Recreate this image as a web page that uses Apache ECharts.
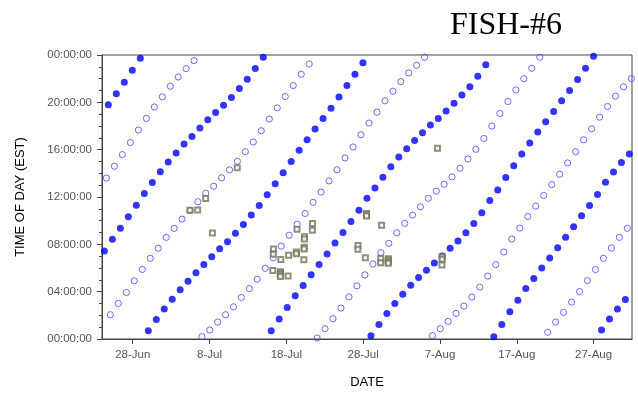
<!DOCTYPE html>
<html>
<head>
<meta charset="utf-8">
<title>FISH-#6</title>
<script src="https://cdn.jsdelivr.net/npm/echarts@6/dist/echarts.min.js"></script>
<style>
  html, body { margin: 0; padding: 0; background: #fff; }
  #chart { width: 638px; height: 394px; }
</style>
</head>
<body>
<div id="chart"></div>
<script>
// Tide times: each run gives the hour of day of the same tide on consecutive days from its start date.
const highTideRuns = [
  ['Jun 24', [19.79, 20.72, 21.70, 22.71, 23.72]],
  ['Jun 24', [7.44, 8.42, 9.35, 10.33, 11.31, 12.29, 13.23, 14.14, 14.96, 15.72, 16.48, 17.12, 17.83, 18.52, 19.14, 19.76, 20.41, 21.16, 21.95, 22.85, 23.81]],
  ['Jun 30', [0.70, 1.65, 2.53, 3.35, 4.17, 4.88, 5.60, 6.29, 6.96, 7.62, 8.22, 8.93, 9.68, 10.47, 11.28, 12.20, 13.12, 14.05, 14.99, 15.95, 16.84, 17.74, 18.64, 19.51, 20.46, 21.42, 22.37, 23.35]],
  ['Jul 16', [0.70, 1.68, 2.67, 3.65, 4.52, 5.42, 6.29, 7.19, 8.11, 9.01, 9.94, 10.89, 11.89, 12.77, 13.67, 14.55, 15.39, 16.08, 16.78, 17.43, 18.08, 18.64, 19.26, 19.93, 20.61, 21.31, 22.21, 23.18]],
  ['Jul 29', [0.28, 1.23, 2.16, 3.00, 3.79, 4.55, 5.19, 5.81, 6.43, 7.02, 7.66, 8.28, 8.98, 9.77, 10.67, 11.70, 12.60, 13.64, 14.65, 15.64, 16.56, 17.49, 18.36, 19.23, 20.13, 21.00, 21.92, 22.88, 23.89]],
  ['Aug 14', [0.20, 1.23, 2.30, 3.28, 4.27, 5.11, 6.01, 6.85, 7.72, 8.59, 9.49, 10.42, 11.28, 12.22, 13.25, 14.12, 14.91, 15.64]],
  ['Aug 28', [0.76, 1.68, 2.53, 3.34]]
];

const lowTideRuns = [
  ['Jun 24', [13.60, 14.60, 15.58, 16.60, 17.66, 18.64, 19.61, 20.47, 21.36, 22.14, 22.85, 23.52]],
  ['Jun 25', [2.05, 3.00, 3.93, 4.92, 5.88, 6.82, 7.67, 8.59, 9.35, 10.13, 10.87, 11.60, 12.32, 12.91, 13.62, 14.29, 15.02, 15.83, 16.65, 17.60, 18.59, 19.53, 20.49, 21.42, 22.37, 23.24]],
  ['Jul 7', [0.20, 0.76, 1.43, 2.05, 2.72, 3.52, 4.26, 5.05, 5.97, 6.87, 7.85, 8.77, 9.70, 10.61, 11.55, 12.42, 13.36, 14.30, 15.30, 16.23, 17.26, 18.25, 19.17, 20.13, 20.94, 21.75, 22.48, 23.13, 23.81]],
  ['Jul 22', [0.08, 0.87, 1.71, 2.61, 3.56, 4.49, 5.42, 6.34, 7.30, 8.08, 8.98, 9.77, 10.47, 11.17, 11.89, 12.49, 13.08, 13.70, 14.43, 15.21, 16.03, 16.95, 18.00, 19.06, 20.07, 21.05, 22.00, 22.88, 23.81]],
  ['Aug 6', [0.28, 0.87, 1.49, 2.16, 2.78, 3.54, 4.38, 5.31, 6.29, 7.35, 8.45, 9.37, 10.36, 11.23, 12.13, 13.05, 13.92, 14.88, 15.83, 16.84, 17.77, 18.75, 19.65, 20.52, 21.31, 22.00]],
  ['Aug 21', [0.56, 1.43, 2.25, 3.12, 4.01, 4.94, 5.87, 6.82, 7.69, 8.59, 9.35]]
];

// Fish detections: [date, hour of day]
const detections = [
  ['Jul 5', 10.89], ['Jul 6', 10.90], ['Jul 7', 11.87], ['Jul 8', 8.95], ['Jul 11', 14.48],
  ['Jul 16', 7.60], ['Jul 16', 7.16], ['Jul 16', 5.79],
  ['Jul 17', 6.71], ['Jul 17', 5.68], ['Jul 17', 5.55], ['Jul 17', 5.42], ['Jul 17', 5.29],
  ['Jul 18', 7.08], ['Jul 18', 5.32],
  ['Jul 19', 9.28], ['Jul 19', 7.35], ['Jul 19', 7.20],
  ['Jul 20', 8.65], ['Jul 20', 8.45], ['Jul 20', 7.75], ['Jul 20', 7.60], ['Jul 20', 6.70],
  ['Jul 21', 9.77], ['Jul 21', 9.20],
  ['Jul 27', 7.90], ['Jul 27', 7.58],
  ['Jul 28', 10.60], ['Jul 28', 10.50], ['Jul 28', 10.40], ['Jul 28', 6.87],
  ['Jul 30', 9.62], ['Jul 30', 6.80], ['Jul 30', 6.45],
  ['Jul 31', 6.78], ['Jul 31', 6.65], ['Jul 31', 6.52], ['Jul 31', 6.40],
  ['Aug 6', 16.12],
  ['Aug 7', 6.95], ['Aug 7', 6.75], ['Aug 7', 6.26]
];

const dateTicks = ['Jun 28', 'Jul 8', 'Jul 18', 'Jul 28', 'Aug 7', 'Aug 17', 'Aug 27'];
const dateRange = ['Jun 24', 'Sep 1'];
const hourTicks = [0, 4, 8, 12, 16, 20, 24];

const YEAR = 2000;
const MONTHS = ['Jan', 'Feb', 'Mar', 'Apr', 'May', 'Jun', 'Jul', 'Aug', 'Sep', 'Oct', 'Nov', 'Dec'];

// Whole days since the epoch for a "Mon D" string
function dayNum(s) {
  const parts = s.split(' ');
  return Date.UTC(YEAR, MONTHS.indexOf(parts[0]), +parts[1]) / 864e5;
}

// x = date plus time of day (in days), y = time of day (hours)
function runsToPoints(runs) {
  const pts = [];
  runs.forEach(function (run) {
    const d0 = dayNum(run[0]);
    run[1].forEach(function (h, i) { pts.push([d0 + i + h / 24, h]); });
  });
  return pts;
}

const highPts = runsToPoints(highTideRuns);
const lowPts = runsToPoints(lowTideRuns);
const fishPts = detections.map(function (d) { return [dayNum(d[0]) + d[1] / 24, d[1]]; });

function pad2(n) { return (n < 10 ? '0' : '') + n; }

const SANS = '"Liberation Sans", Arial, sans-serif';
const AXIS_COLOR = '#444';
const LABEL_COLOR = '#555';

const chart = echarts.init(document.getElementById('chart'), null, { renderer: 'canvas' });
chart.setOption({
  animation: false,
  backgroundColor: '#fff',
  title: {
    text: 'FISH-#6',
    left: 450,
    top: 10,
    padding: 0,
    textStyle: { fontFamily: '"Liberation Serif", "Times New Roman", serif', fontSize: 32, fontWeight: 'normal', color: '#000' }
  },
  grid: {
    left: 102, right: 6, top: 55, bottom: 54,
    show: true, borderColor: AXIS_COLOR, borderWidth: 1, backgroundColor: 'transparent'
  },
  xAxis: {
    type: 'value',
    min: dayNum(dateRange[0]),
    max: dayNum(dateRange[1]),
    name: 'DATE',
    nameLocation: 'middle',
    nameGap: 37,
    nameTextStyle: { fontFamily: SANS, fontSize: 13, color: '#000' },
    axisLine: { show: true, lineStyle: { color: AXIS_COLOR, width: 1 } },
    axisTick: { show: true, length: 5, lineStyle: { color: AXIS_COLOR }, customValues: dateTicks.map(dayNum) },
    axisLabel: {
      show: true, margin: 10, fontFamily: SANS, fontSize: 11.5, color: LABEL_COLOR,
      customValues: dateTicks.map(dayNum),
      formatter: function (v) {
        const d = new Date(Math.round(v) * 864e5);
        return d.getUTCDate() + '-' + MONTHS[d.getUTCMonth()];
      }
    },
    splitLine: { show: false }
  },
  yAxis: {
    type: 'value',
    min: hourTicks[0],
    max: hourTicks[hourTicks.length - 1],
    interval: 4,
    name: 'TIME OF DAY (EST)',
    nameLocation: 'middle',
    nameRotate: 90,
    nameGap: 75,
    nameTextStyle: { fontFamily: SANS, fontSize: 13, color: '#000' },
    axisLine: { show: true, lineStyle: { color: AXIS_COLOR, width: 1 } },
    axisTick: { show: true, length: 5, lineStyle: { color: AXIS_COLOR } },
    minorTick: { show: true, splitNumber: 4, length: 3, lineStyle: { color: AXIS_COLOR } },
    axisLabel: {
      show: true, margin: 10, fontFamily: SANS, fontSize: 11.5, color: LABEL_COLOR,
      formatter: function (v) { return pad2(v % 24) + ':00:00'; }
    },
    splitLine: { show: false },
    minorSplitLine: { show: false }
  },
  series: [
    {
      name: 'High tide', type: 'scatter', data: highPts,
      symbol: 'circle', symbolSize: 7,
      itemStyle: { color: '#0000ff' }
    },
    {
      name: 'Low tide', type: 'scatter', data: lowPts,
      symbol: 'circle', symbolSize: 6.2,
      itemStyle: { color: 'rgba(255,255,255,0)', borderColor: '#4646ff', borderWidth: 1 }
    },
    {
      name: 'FISH-#6', type: 'scatter', data: fishPts,
      symbol: 'rect', symbolSize: 5,
      itemStyle: { color: '#fff', borderColor: '#73735a', borderWidth: 2 }
    }
  ]
});
</script>
</body>
</html>
